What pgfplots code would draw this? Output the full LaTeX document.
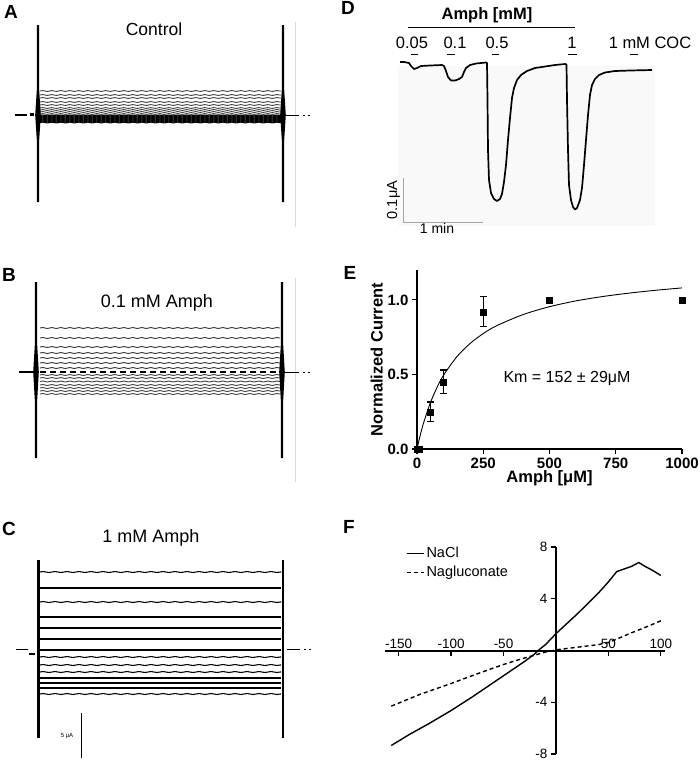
\documentclass[border=0pt]{standalone}
\usepackage{pgfplots}
\pgfplotsset{compat=1.18}
\usepackage{fontspec}
\setmainfont{Liberation Sans}
\usetikzlibrary{decorations.pathmorphing}
\newcommand\fs[1]{\fontsize{#1}{#1}\selectfont}
\begin{document}
\begin{tikzpicture}
% ---------------- canvas axis (1 unit = 1 pt, y downward) -----------------
\begin{axis}[at={(0pt,0pt)}, anchor=north west, scale only axis,
  width=700pt, height=765pt, xmin=0, xmax=700, ymin=0, ymax=765,
  y dir=reverse, axis lines=none, clip=false]
% ===== Panel A =====
\addplot[draw=gray!30, line width=0.6pt] coordinates {(295,22) (295,227)};
\pgfplotsinvokeforeach{91,95,98,102,105,108,110,112,114}{
 \addplot[gray!45!black, line width=0.85pt, decorate, decoration={snake, amplitude=0.45pt, segment length=9pt}] coordinates {(40,#1) (281,#1)};}
\pgfplotsinvokeforeach{115.5,116.5,117.5,118.5,119.5,120.5,121.5,122.5}{
 \addplot[black, line width=1.1pt, decorate, decoration={snake, amplitude=0.4pt, segment length=9pt}] coordinates {(40,#1) (281,#1)};}
\addplot[fill=black, draw=none] coordinates {(36.8,25) (39.2,25) (39.2,90) (40.8,115) (39.2,140) (39.2,202) (36.8,202) (36.8,140) (35.2,115) (36.8,90)} -- cycle;
\addplot[fill=black, draw=none] coordinates {(281.8,25) (284.2,25) (284.2,90) (285.8,115) (284.2,140) (284.2,202) (281.8,202) (281.8,140) (280.2,115) (281.8,90)} -- cycle;
\addplot[black, line width=1.2pt] coordinates {(15,115) (27,115)};
\addplot[black, line width=2.5pt] coordinates {(30,114.5) (34,114.5)};
\addplot[black, line width=1pt] coordinates {(285,115) (299,115)};
\addplot[black, line width=1pt] coordinates {(303,115) (304.5,115)};
\addplot[black, line width=1pt] coordinates {(308,115) (309.5,115)};
% ===== Panel B =====
\addplot[draw=gray!30, line width=0.6pt] coordinates {(295,278) (295,482)};
\pgfplotsinvokeforeach{328,338,347,353,358,363,368}{
 \addplot[gray!40!black, line width=0.9pt, decorate, decoration={snake, amplitude=0.5pt, segment length=9pt}] coordinates {(40,#1) (280,#1)};}
\pgfplotsinvokeforeach{375,378,381.5,385,388,391,394}{
 \addplot[gray!50!black, line width=0.9pt, decorate, decoration={snake, amplitude=0.5pt, segment length=9pt}] coordinates {(40,#1) (280,#1)};}
\addplot[black, line width=1.3pt, dash pattern=on 6pt off 4pt] coordinates {(40,372) (280,372)};
\addplot[fill=black, draw=none] coordinates {(34.8,282) (37.2,282) (37.2,345) (38.8,372) (37.2,400) (37.2,458) (34.8,458) (34.8,400) (33.2,372) (34.8,345)} -- cycle;
\addplot[fill=black, draw=none] coordinates {(280.8,282) (283.2,282) (283.2,345) (284.8,372) (283.2,400) (283.2,458) (280.8,458) (280.8,400) (279.2,372) (280.8,345)} -- cycle;
\addplot[black, line width=1.2pt] coordinates {(19,372) (33,372)};
\addplot[black, line width=1pt] coordinates {(285,372) (299,372)};
\addplot[black, line width=1pt] coordinates {(303,372) (304.5,372)};
\addplot[black, line width=1pt] coordinates {(308,372) (309.5,372)};
% ===== Panel C =====
\pgfplotsinvokeforeach{572,602,657,665,672,694}{
 \addplot[black, line width=1.1pt, decorate, decoration={zigzag, amplitude=0.5pt, segment length=12pt}] coordinates {(40,#1) (281,#1)};}
\pgfplotsinvokeforeach{588,617,628,639,650,678,683,688}{
 \addplot[black, line width=1.1pt] coordinates {(40,#1) (281,#1)};}
\addplot[black, line width=3pt] coordinates {(38,560) (38,738)};
\addplot[black, line width=2pt] coordinates {(283,560) (283,738)};
\addplot[black, line width=1pt] coordinates {(16,649) (28,649)};
\addplot[black, line width=2.5pt] coordinates {(29,654) (35,654)};
\addplot[black, line width=1pt] coordinates {(287,649) (300,649)};
\addplot[black, line width=1pt] coordinates {(304,649) (305.5,649)};
\addplot[black, line width=1pt] coordinates {(309,649) (310.5,649)};
\addplot[black, line width=1pt] coordinates {(81,713) (81,758)};
% ===== Panel D =====
\addplot[fill=gray!5, draw=none] coordinates {(398,66) (655,66) (655,226) (398,226)} -- cycle;
\addplot[black, line width=0.8pt] coordinates {(408,27) (575,27)};
\addplot[black, line width=1pt] coordinates {(411,54) (418,54)};
\addplot[black, line width=1pt] coordinates {(447,54) (455,54)};
\addplot[black, line width=1pt] coordinates {(492,54) (499,54)};
\addplot[black, line width=1pt] coordinates {(568,54) (577,54)};
\addplot[black, line width=1pt] coordinates {(630,54) (638,54)};
\addplot[black, line width=1.7pt, line join=round] coordinates {
(400,62) (404,62) (409,63) (411,66) (414,69) (417,68) (421,66) (430,65.5) (442,65)
(444,66) (446,71) (448,77) (451,80.5) (455,80.5) (459,79) (462,77) (464,72) (466,68)
(470,65) (476,63.5) (486,62.5) (487,63) (487.5,100) (488,150) (489,180) (491,193)
(494,199) (497,201) (500,199) (502,194) (504,182) (506,165) (508,140) (510,118)
(512,98) (514,88) (517,80) (521,75) (527,71) (535,68) (545,66.5) (555,65) (565,64)
(566.5,64.5) (567,100) (568,150) (569,185) (571,200) (573,207) (575,209.5) (577,208)
(580,200) (582,188) (584,165) (586,140) (588,115) (590,95) (592,85) (595,79) (599,75)
(605,72.5) (615,71) (630,70.5) (652,70)};
\addplot[gray!70, line width=0.9pt] coordinates {(403,178) (403,222) (483,222)};
% ---- texts ----
\node[font=\bfseries\fs{19}] at (axis cs:11,12) {A};
\node[font=\bfseries\fs{19}] at (axis cs:9,275) {B};
\node[font=\bfseries\fs{19}] at (axis cs:9,529) {C};
\node[font=\bfseries\fs{19}] at (axis cs:348,8) {D};
\node[font=\bfseries\fs{19}] at (axis cs:350,273) {E};
\node[font=\bfseries\fs{19}] at (axis cs:349,527) {F};
\node[font=\fs{17.5}, anchor=base] at (axis cs:154,35) {Control};
\node[font=\fs{18}, anchor=base] at (axis cs:157,307) {0.1 mM Amph};
\node[font=\fs{18}, anchor=base] at (axis cs:151,542) {1 mM Amph};
\node[font=\fs{6}] at (axis cs:67,736) {5 μA};
\node[font=\bfseries\fs{16.5}, anchor=base] at (axis cs:487,19) {Amph [mM]};
\node[font=\fs{16.5}, anchor=base] at (axis cs:412,48) {0.05};
\node[font=\fs{16.5}, anchor=base] at (axis cs:455,48) {0.1};
\node[font=\fs{16.5}, anchor=base] at (axis cs:497,48) {0.5};
\node[font=\fs{16.5}, anchor=base] at (axis cs:572,48) {1};
\node[font=\fs{16.5}, anchor=base] at (axis cs:650,48) {1 mM COC};
\node[font=\fs{14.5}, anchor=base, rotate=90] at (axis cs:397,200) {0.1μA};
\node[font=\fs{14}, anchor=base] at (axis cs:437,233) {1 min};
\end{axis}
% ---------------- Panel E -----------------
\begin{axis}[at={(417pt,-449pt)}, anchor=south west, scale only axis,
  width=265pt, height=179pt, xmin=0, xmax=1000, ymin=0, ymax=1.2,
  axis x line*=bottom, axis y line*=left,
  axis line style={line width=1.2pt, -},
  xtick={0,250,500,750,1000}, ytick={0,0.5,1},
  tick align=outside, major tick length=5pt,
  tick style={line width=1.2pt, black},
  /pgf/number format/assume math mode=true,
  /pgf/number format/set thousands separator={},
  yticklabel style={/pgf/number format/.cd, fixed, fixed zerofill, precision=1},
  ticklabel style={font=\bfseries\fs{15}},
  xlabel={Amph [μM]}, ylabel={Normalized Current},
  label style={font=\bfseries\fs{16.5}},
  xlabel style={yshift=4pt},
  ylabel style={yshift=-2pt},
  clip=false]
\addplot[black, line width=0.9pt, smooth] coordinates {
(0,0) (10,0.0768) (25,0.1757) (50,0.308) (75,0.411) (100,0.494) (150,0.618)
(200,0.707) (250,0.774) (300,0.826) (400,0.901) (500,0.954) (600,0.993)
(700,1.022) (800,1.045) (900,1.064) (1000,1.080)};
\addplot[black, only marks, mark=square*, mark size=3pt,
  error bars/.cd, y dir=both, y explicit,
  error bar style={line width=1.2pt, black},
  error mark options={rotate=90, mark size=3.5pt, line width=1.2pt, black}]
  coordinates {(0,0) +- (0,0) (10,0) +- (0,0) (50,0.25) +- (0,0.065)
  (100,0.45) +- (0,0.08) (250,0.92) +- (0,0.1) (500,1.0) +- (0,0.015)
  (1000,1.0) +- (0,0)};
\node[font=\fs{16}] at (axis cs:566,0.475) {Km = 152 ± 29μM};
\end{axis}
% ---------------- Panel F -----------------
\begin{axis}[at={(385pt,-754pt)}, anchor=south west, scale only axis,
  width=280pt, height=207pt, xmin=-163, xmax=104, ymin=-8, ymax=8,
  axis lines=middle, axis line style={-},
  x axis line style={line width=2pt}, y axis line style={line width=1.3pt},
  xtick={-150,-100,-50,50,100}, ytick={-8,-4,4,8},
  tick style={black, line width=1.2pt}, major tick length=5pt,
  xtick align=outside, ytick align=outside,
  /pgf/number format/assume math mode=true,
  xticklabel style={anchor=south, yshift=3pt, font=\fs{13.5}},
  yticklabel style={font=\fs{13.5}},
  legend style={at={(axis cs:-146,8.3)}, anchor=north west, draw=none, fill=none,
    font=\fs{14.5}, row sep=3pt},
  legend cell align=left, clip=false]
\addplot[black, line width=1.4pt] coordinates {
(-157,-7.34) (-140,-6.5) (-120,-5.6) (-100,-4.64) (-80,-3.6) (-60,-2.5) (-50,-1.95)
(-40,-1.4) (-30,-0.85) (-20,-0.25) (-17,0) (-10,0.45) (0,1.3) (10,2.05) (20,2.8)
(30,3.6) (40,4.4) (50,5.3) (58,6.1) (65,6.3) (72,6.5) (79,6.8) (85,6.5) (92,6.2) (100,5.8)};
\addlegendentry{NaCl}
\addplot[black, line width=1.4pt, dash pattern=on 4pt off 3pt] coordinates {
(-157,-4.3) (-130,-3.4) (-100,-2.55) (-75,-1.8) (-50,-1.08) (-35,-0.7) (-20,-0.35)
(-10,-0.12) (0,0.05) (20,0.25) (40,0.45) (50,0.62) (60,0.95) (70,1.3) (80,1.62)
(90,1.95) (100,2.3)};
\addlegendentry{Nagluconate}
\end{axis}
\pgfresetboundingbox
\path[use as bounding box] (0,0) rectangle (700pt,-765pt);
\end{tikzpicture}
\end{document}
